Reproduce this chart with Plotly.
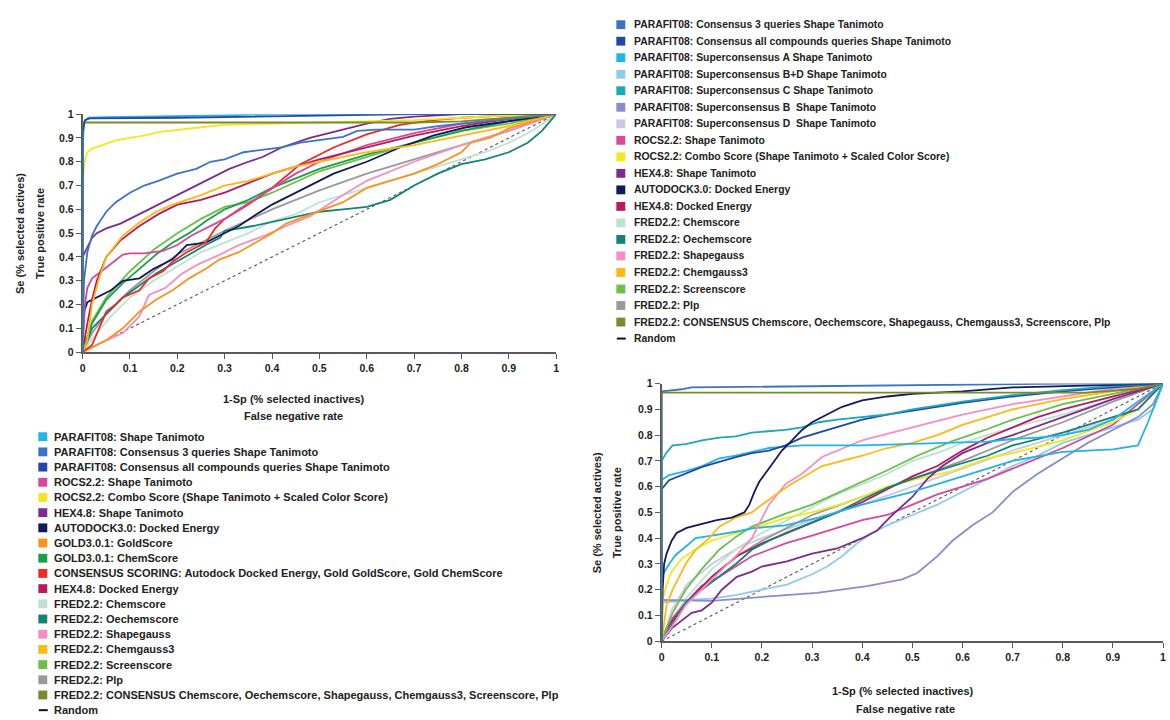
import plotly.graph_objects as go

W, H = 1170, 720
FONT = "Liberation Sans, Arial, sans-serif"

# ---------------- LEFT CHART DATA ----------------
L_PF_ST_X = [0, 0.001, 0.004, 0.012, 0.05, 0.15, 0.3, 0.42, 1]
L_PF_ST_Y = [0, 0.9, 0.97, 0.985, 0.988, 0.99, 0.995, 1, 1]

L_PF_C3_X = [0, 0.003, 0.01, 0.02, 0.03, 0.05, 0.07, 0.1, 0.13, 0.16, 0.2, 0.24, 0.27, 0.3, 0.34, 0.38, 0.42, 0.46, 0.5, 0.55, 0.58, 0.62, 0.7, 0.75, 0.8, 0.9, 1]
L_PF_C3_Y = [0, 0.3, 0.42, 0.49, 0.53, 0.59, 0.63, 0.67, 0.7, 0.72, 0.75, 0.77, 0.8, 0.81, 0.84, 0.85, 0.86, 0.88, 0.89, 0.905, 0.93, 0.935, 0.935, 0.95, 0.96, 0.98, 1]

L_PF_CA_X = [0, 0, 0.005, 0.015, 0.2, 0.35, 0.5, 0.7, 1]
L_PF_CA_Y = [0, 0.93, 0.975, 0.982, 0.985, 0.99, 0.995, 1, 1]

L_ROCS_ST_X = [0, 0.005, 0.01, 0.02, 0.04, 0.06, 0.085, 0.1, 0.13, 0.17, 0.2, 0.23, 0.26, 0.3, 0.33, 0.37, 0.4, 0.45, 0.5, 0.6, 0.7, 0.8, 0.9, 1]
L_ROCS_ST_Y = [0, 0.2, 0.27, 0.31, 0.34, 0.37, 0.41, 0.415, 0.415, 0.425, 0.45, 0.49, 0.52, 0.56, 0.6, 0.65, 0.69, 0.75, 0.8, 0.87, 0.92, 0.96, 0.98, 1]

L_ROCS_CB_X = [0, 0, 0.004, 0.01, 0.02, 0.04, 0.07, 0.1, 0.13, 0.16, 0.2, 0.25, 0.3, 0.4, 0.5, 0.6, 0.7, 0.8, 0.9, 1]
L_ROCS_CB_Y = [0, 0.7, 0.8, 0.84, 0.855, 0.87, 0.89, 0.9, 0.91, 0.925, 0.935, 0.945, 0.955, 0.96, 0.965, 0.97, 0.975, 0.985, 0.995, 1]

L_HEX_ST_X = [0, 0, 0.01, 0.02, 0.03, 0.05, 0.08, 0.1, 0.13, 0.17, 0.2, 0.24, 0.28, 0.31, 0.35, 0.38, 0.42, 0.45, 0.48, 0.52, 0.56, 0.6, 0.65, 0.7, 0.8, 1]
L_HEX_ST_Y = [0, 0.4, 0.44, 0.48, 0.5, 0.52, 0.54, 0.56, 0.59, 0.63, 0.66, 0.7, 0.74, 0.77, 0.8, 0.82, 0.86, 0.88, 0.9, 0.92, 0.94, 0.96, 0.98, 0.99, 1, 1]

L_AUTODOCK_X = [0, 0, 0.01, 0.03, 0.06, 0.085, 0.12, 0.15, 0.19, 0.22, 0.26, 0.29, 0.33, 0.36, 0.4, 0.44, 0.48, 0.53, 0.6, 0.67, 0.74, 0.81, 0.88, 0.95, 1]
L_AUTODOCK_Y = [0, 0.15, 0.21, 0.23, 0.26, 0.3, 0.31, 0.35, 0.39, 0.45, 0.46, 0.49, 0.53, 0.57, 0.62, 0.66, 0.7, 0.75, 0.8, 0.86, 0.91, 0.945, 0.965, 0.985, 1]

L_GOLDSCORE_X = [0, 0.02, 0.05, 0.085, 0.12, 0.155, 0.19, 0.225, 0.26, 0.29, 0.33, 0.365, 0.4, 0.43, 0.47, 0.5, 0.55, 0.6, 0.65, 0.7, 0.75, 0.8, 0.82, 0.86, 0.9, 0.95, 1]
L_GOLDSCORE_Y = [0, 0.02, 0.05, 0.1, 0.17, 0.22, 0.26, 0.31, 0.35, 0.39, 0.42, 0.46, 0.5, 0.54, 0.57, 0.59, 0.63, 0.69, 0.72, 0.75, 0.79, 0.84, 0.88, 0.9, 0.94, 0.97, 1]

L_GOLDCHEM_X = [0, 0.02, 0.05, 0.085, 0.12, 0.155, 0.19, 0.225, 0.26, 0.3, 0.35, 0.4, 0.45, 0.5, 0.6, 0.7, 0.8, 0.9, 1]
L_GOLDCHEM_Y = [0, 0.12, 0.22, 0.29, 0.35, 0.41, 0.46, 0.5, 0.55, 0.6, 0.64, 0.69, 0.73, 0.77, 0.83, 0.88, 0.93, 0.97, 1]

L_CONSSC_X = [0, 0.02, 0.035, 0.05, 0.07, 0.085, 0.12, 0.14, 0.17, 0.19, 0.22, 0.26, 0.28, 0.3, 0.35, 0.4, 0.46, 0.53, 0.6, 0.67, 0.74, 0.8, 0.9, 1]
L_CONSSC_Y = [0, 0.03, 0.1, 0.17, 0.2, 0.23, 0.26, 0.31, 0.34, 0.38, 0.42, 0.46, 0.52, 0.56, 0.62, 0.69, 0.79, 0.86, 0.915, 0.955, 0.975, 0.985, 0.995, 1]

L_HEX_DE_X = [0, 0.01, 0.02, 0.03, 0.05, 0.08, 0.12, 0.16, 0.2, 0.25, 0.3, 0.35, 0.4, 0.45, 0.5, 0.6, 0.7, 0.8, 0.9, 1]
L_HEX_DE_Y = [0, 0.12, 0.22, 0.3, 0.4, 0.47, 0.53, 0.58, 0.62, 0.64, 0.67, 0.71, 0.75, 0.78, 0.81, 0.86, 0.91, 0.95, 0.98, 1]

L_FCHEM_X = [0, 0.03, 0.06, 0.1, 0.15, 0.2, 0.25, 0.3, 0.35, 0.4, 0.45, 0.5, 0.55, 0.6, 0.65, 0.7, 0.75, 0.8, 0.85, 0.9, 0.95, 1]
L_FCHEM_Y = [0, 0.08, 0.15, 0.23, 0.3, 0.36, 0.42, 0.46, 0.5, 0.55, 0.58, 0.63, 0.66, 0.69, 0.72, 0.75, 0.78, 0.81, 0.84, 0.88, 0.93, 1]

L_FOECH_X = [0, 0.02, 0.05, 0.085, 0.12, 0.155, 0.19, 0.225, 0.26, 0.29, 0.3, 0.36, 0.43, 0.5, 0.55, 0.6, 0.65, 0.7, 0.75, 0.8, 0.85, 0.9, 0.94, 0.97, 1]
L_FOECH_Y = [0, 0.1, 0.16, 0.23, 0.28, 0.33, 0.37, 0.41, 0.45, 0.48, 0.51, 0.53, 0.56, 0.59, 0.6, 0.61, 0.64, 0.7, 0.75, 0.79, 0.81, 0.84, 0.88, 0.93, 1]

L_FSHAPE_X = [0, 0.04, 0.085, 0.12, 0.14, 0.175, 0.21, 0.245, 0.29, 0.33, 0.385, 0.43, 0.48, 0.55, 0.6, 0.7, 0.8, 0.9, 1]
L_FSHAPE_Y = [0, 0.04, 0.08, 0.15, 0.24, 0.27, 0.33, 0.37, 0.41, 0.45, 0.49, 0.53, 0.57, 0.66, 0.72, 0.8, 0.87, 0.93, 1]

L_FCG3_X = [0, 0.01, 0.02, 0.035, 0.05, 0.085, 0.12, 0.155, 0.19, 0.25, 0.3, 0.35, 0.4, 0.45, 0.5, 0.6, 0.7, 0.8, 0.9, 1]
L_FCG3_Y = [0, 0.05, 0.2, 0.31, 0.4, 0.49, 0.545, 0.59, 0.62, 0.66, 0.7, 0.72, 0.75, 0.78, 0.8, 0.84, 0.87, 0.91, 0.95, 1]

L_FSCREEN_X = [0, 0.02, 0.05, 0.1, 0.15, 0.2, 0.25, 0.3, 0.35, 0.4, 0.5, 0.6, 0.7, 0.8, 0.9, 1]
L_FSCREEN_Y = [0, 0.13, 0.23, 0.34, 0.43, 0.5, 0.56, 0.61, 0.63, 0.67, 0.76, 0.82, 0.88, 0.93, 0.96, 1]

L_FPLP_X = [0, 0.02, 0.05, 0.1, 0.15, 0.2, 0.3, 0.4, 0.5, 0.6, 0.7, 0.8, 0.9, 1]
L_FPLP_Y = [0, 0.08, 0.16, 0.26, 0.34, 0.41, 0.51, 0.6, 0.68, 0.75, 0.81, 0.87, 0.93, 1]

L_FCONS_X = [0, 0, 0.7, 0.8, 0.9, 1]
L_FCONS_Y = [0, 0.965, 0.965, 0.97, 0.985, 1]

RANDOM_X = [0, 1]
RANDOM_Y = [0, 1]

# ---------------- RIGHT CHART DATA ----------------
R_PF_C3_X = [0, 0, 0.01, 0.04, 0.06, 0.3, 0.5, 0.8, 1]
R_PF_C3_Y = [0, 0.97, 0.972, 0.978, 0.985, 0.99, 0.995, 1, 1]

R_PF_CA_X = [0, 0, 0.015, 0.048, 0.081, 0.115, 0.148, 0.18, 0.214, 0.247, 0.28, 0.313, 0.35, 0.4, 0.45, 0.5, 0.55, 0.6, 0.7, 0.8, 0.9, 1]
R_PF_CA_Y = [0, 0.59, 0.625, 0.65, 0.677, 0.696, 0.715, 0.73, 0.74, 0.76, 0.79, 0.81, 0.83, 0.86, 0.88, 0.895, 0.91, 0.925, 0.95, 0.97, 0.985, 1]

R_PF_SA_X = [0, 0, 0.015, 0.048, 0.081, 0.115, 0.148, 0.18, 0.214, 0.247, 0.28, 0.4, 0.5, 0.6, 0.65, 0.7, 0.75, 0.8, 0.85, 0.9, 0.95, 1]
R_PF_SA_Y = [0, 0.626, 0.645, 0.66, 0.68, 0.71, 0.72, 0.735, 0.75, 0.755, 0.76, 0.76, 0.765, 0.77, 0.775, 0.785, 0.79, 0.8, 0.82, 0.86, 0.93, 1]

R_PF_SBD_X = [0, 0, 0.05, 0.1, 0.15, 0.2, 0.25, 0.3, 0.33, 0.36, 0.39, 0.42, 0.45, 0.5, 0.55, 0.6, 0.65, 0.7, 0.75, 0.8, 0.85, 0.9, 0.95, 0.98, 1]
R_PF_SBD_Y = [0, 0.15, 0.16, 0.165, 0.18, 0.2, 0.22, 0.26, 0.29, 0.33, 0.38, 0.42, 0.45, 0.49, 0.53, 0.58, 0.63, 0.68, 0.72, 0.77, 0.8, 0.83, 0.86, 0.9, 1]

R_PF_SC_X = [0, 0, 0.009, 0.022, 0.048, 0.081, 0.115, 0.148, 0.18, 0.214, 0.247, 0.28, 0.313, 0.35, 0.4, 0.45, 0.5, 0.6, 0.7, 0.8, 0.9, 1]
R_PF_SC_Y = [0, 0.7, 0.73, 0.76, 0.765, 0.78, 0.79, 0.795, 0.81, 0.815, 0.82, 0.83, 0.85, 0.86, 0.87, 0.88, 0.9, 0.93, 0.955, 0.975, 0.99, 1]

R_PF_SB_X = [0, 0, 0.1, 0.22, 0.31, 0.41, 0.48, 0.51, 0.55, 0.58, 0.62, 0.66, 0.7, 0.75, 0.8, 0.85, 0.9, 0.95, 0.98, 1]
R_PF_SB_Y = [0, 0.16, 0.157, 0.175, 0.188, 0.214, 0.24, 0.265, 0.33, 0.39, 0.45, 0.5, 0.58, 0.65, 0.71, 0.77, 0.82, 0.87, 0.92, 1]

R_PF_SD_X = [0, 0.02, 0.05, 0.1, 0.15, 0.2, 0.3, 0.4, 0.5, 0.6, 0.7, 0.8, 0.9, 0.95, 1]
R_PF_SD_Y = [0, 0.12, 0.22, 0.3, 0.36, 0.4, 0.47, 0.53, 0.6, 0.67, 0.74, 0.8, 0.86, 0.9, 1]

R_PF_ST_X = [0, 0, 0.015, 0.028, 0.048, 0.068, 0.1, 0.148, 0.18, 0.214, 0.247, 0.28, 0.313, 0.4, 0.5, 0.6, 0.7, 0.8, 0.85, 0.9, 0.95, 0.97, 1]
R_PF_ST_Y = [0, 0.25, 0.3, 0.335, 0.367, 0.4, 0.41, 0.425, 0.438, 0.445, 0.45, 0.465, 0.48, 0.53, 0.58, 0.64, 0.7, 0.735, 0.74, 0.745, 0.76, 0.85, 1]

R_ROCS_ST_X = [0, 0.022, 0.048, 0.08, 0.115, 0.148, 0.18, 0.214, 0.247, 0.3, 0.35, 0.4, 0.45, 0.5, 0.55, 0.6, 0.65, 0.7, 0.8, 0.9, 1]
R_ROCS_ST_Y = [0, 0.09, 0.15, 0.215, 0.25, 0.29, 0.33, 0.355, 0.38, 0.41, 0.44, 0.47, 0.49, 0.53, 0.57, 0.6, 0.63, 0.67, 0.75, 0.84, 1]

R_ROCS_CB_X = [0, 0.003, 0.01, 0.02, 0.04, 0.07, 0.1, 0.15, 0.2, 0.25, 0.3, 0.38, 0.45, 0.51, 0.58, 0.65, 0.7, 0.8, 0.9, 0.95, 1]
R_ROCS_CB_Y = [0, 0.17, 0.22, 0.27, 0.32, 0.36, 0.39, 0.42, 0.45, 0.48, 0.5, 0.545, 0.6, 0.63, 0.66, 0.71, 0.73, 0.78, 0.85, 0.9, 1]

R_HEX_ST_X = [0, 0.02, 0.04, 0.06, 0.08, 0.1, 0.12, 0.15, 0.18, 0.2, 0.25, 0.3, 0.35, 0.4, 0.43, 0.46, 0.5, 0.53, 0.56, 0.6, 0.65, 0.7, 0.8, 0.9, 1]
R_HEX_ST_Y = [0, 0.05, 0.08, 0.11, 0.12, 0.15, 0.2, 0.25, 0.27, 0.29, 0.31, 0.34, 0.36, 0.4, 0.43, 0.49, 0.56, 0.63, 0.68, 0.73, 0.77, 0.8, 0.87, 0.94, 1]

R_AUTODOCK_X = [0, 0.002, 0.005, 0.01, 0.02, 0.03, 0.05, 0.08, 0.11, 0.14, 0.165, 0.175, 0.185, 0.195, 0.21, 0.225, 0.24, 0.26, 0.28, 0.3, 0.33, 0.36, 0.4, 0.45, 0.5, 0.6, 0.7, 0.8, 1]
R_AUTODOCK_Y = [0, 0.2, 0.3, 0.34, 0.39, 0.42, 0.44, 0.455, 0.47, 0.48, 0.5, 0.53, 0.58, 0.62, 0.66, 0.7, 0.74, 0.78, 0.82, 0.85, 0.88, 0.91, 0.935, 0.95, 0.96, 0.97, 0.985, 0.99, 1]

R_HEX_DE_X = [0, 0.01, 0.03, 0.06, 0.1, 0.15, 0.2, 0.25, 0.3, 0.35, 0.4, 0.45, 0.5, 0.55, 0.6, 0.65, 0.7, 0.75, 0.8, 0.9, 1]
R_HEX_DE_Y = [0, 0.05, 0.1, 0.17, 0.25, 0.33, 0.38, 0.42, 0.46, 0.5, 0.54, 0.59, 0.64, 0.68, 0.74, 0.79, 0.83, 0.87, 0.9, 0.95, 1]

R_FCHEM_X = [0, 0.02, 0.05, 0.1, 0.15, 0.2, 0.25, 0.3, 0.35, 0.4, 0.45, 0.5, 0.55, 0.6, 0.7, 0.8, 0.9, 1]
R_FCHEM_Y = [0, 0.08, 0.17, 0.28, 0.36, 0.42, 0.47, 0.52, 0.57, 0.61, 0.65, 0.7, 0.73, 0.77, 0.83, 0.88, 0.94, 1]

R_FOECH_X = [0, 0.022, 0.048, 0.08, 0.115, 0.148, 0.18, 0.214, 0.247, 0.3, 0.35, 0.4, 0.45, 0.5, 0.58, 0.65, 0.7, 0.8, 0.9, 0.95, 1]
R_FOECH_Y = [0, 0.07, 0.15, 0.2, 0.25, 0.3, 0.355, 0.39, 0.42, 0.46, 0.5, 0.55, 0.595, 0.63, 0.68, 0.72, 0.76, 0.81, 0.87, 0.9, 1]

R_FSHAPE_X = [0, 0.022, 0.048, 0.08, 0.115, 0.148, 0.18, 0.2, 0.214, 0.247, 0.28, 0.32, 0.35, 0.4, 0.5, 0.6, 0.7, 0.8, 0.9, 1]
R_FSHAPE_Y = [0, 0.06, 0.14, 0.2, 0.265, 0.33, 0.4, 0.48, 0.53, 0.61, 0.65, 0.715, 0.74, 0.78, 0.83, 0.88, 0.92, 0.95, 0.98, 1]

R_FCG3_X = [0, 0.01, 0.022, 0.048, 0.068, 0.095, 0.115, 0.148, 0.18, 0.2, 0.25, 0.32, 0.4, 0.45, 0.5, 0.55, 0.6, 0.7, 0.8, 0.9, 1]
R_FCG3_Y = [0, 0.14, 0.2, 0.3, 0.355, 0.4, 0.445, 0.48, 0.5, 0.53, 0.6, 0.68, 0.72, 0.75, 0.77, 0.8, 0.84, 0.9, 0.94, 0.97, 1]

R_FSCREEN_X = [0, 0.022, 0.048, 0.08, 0.115, 0.148, 0.18, 0.214, 0.247, 0.3, 0.38, 0.446, 0.51, 0.577, 0.645, 0.7, 0.8, 0.9, 1]
R_FSCREEN_Y = [0, 0.11, 0.2, 0.28, 0.355, 0.405, 0.445, 0.47, 0.495, 0.53, 0.6, 0.66, 0.72, 0.775, 0.82, 0.86, 0.92, 0.96, 1]

R_FPLP_X = [0, 0.02, 0.05, 0.1, 0.15, 0.2, 0.25, 0.3, 0.4, 0.5, 0.6, 0.7, 0.8, 0.9, 1]
R_FPLP_Y = [0, 0.08, 0.15, 0.25, 0.33, 0.39, 0.44, 0.49, 0.56, 0.63, 0.7, 0.78, 0.85, 0.93, 1]

R_FCONS_X = [0, 0, 0.85, 0.95, 1]
R_FCONS_Y = [0, 0.965, 0.965, 0.98, 1]

# ---------------- NAMES / COLOURS ----------------
N_PF_ST = "PARAFIT08: Shape Tanimoto"
N_PF_C3 = "PARAFIT08: Consensus 3 queries Shape Tanimoto"
N_PF_CA = "PARAFIT08: Consensus all compounds queries Shape Tanimoto"
N_PF_SA = "PARAFIT08: Superconsensus A Shape Tanimoto"
N_PF_SBD = "PARAFIT08: Superconsensus B+D Shape Tanimoto"
N_PF_SC = "PARAFIT08: Superconsensus C Shape Tanimoto"
N_PF_SB = "PARAFIT08: Superconsensus B  Shape Tanimoto"
N_PF_SD = "PARAFIT08: Superconsensus D  Shape Tanimoto"
N_ROCS_ST = "ROCS2.2: Shape Tanimoto"
N_ROCS_CB = "ROCS2.2: Combo Score (Shape Tanimoto + Scaled Color Score)"
N_HEX_ST = "HEX4.8: Shape Tanimoto"
N_AUTODOCK = "AUTODOCK3.0: Docked Energy"
N_GOLDSCORE = "GOLD3.0.1: GoldScore"
N_GOLDCHEM = "GOLD3.0.1: ChemScore"
N_CONSSC = "CONSENSUS SCORING: Autodock Docked Energy, Gold GoldScore, Gold ChemScore"
N_HEX_DE = "HEX4.8: Docked Energy"
N_FCHEM = "FRED2.2: Chemscore"
N_FOECH = "FRED2.2: Oechemscore"
N_FSHAPE = "FRED2.2: Shapegauss"
N_FCG3 = "FRED2.2: Chemgauss3"
N_FSCREEN = "FRED2.2: Screenscore"
N_FPLP = "FRED2.2: Plp"
N_FCONS = "FRED2.2: CONSENSUS Chemscore, Oechemscore, Shapegauss, Chemgauss3, Screenscore, Plp"
N_RANDOM = "Random"

C = {
    N_PF_ST: "#27b3e0", N_PF_C3: "#3c74c4", N_PF_CA: "#2447a6",
    N_PF_SA: "#1eb6ea", N_PF_SBD: "#8fcbef", N_PF_SC: "#19a9b8",
    N_PF_SB: "#8d8bcb", N_PF_SD: "#c9c8e6",
    N_ROCS_ST: "#d6489c", N_ROCS_CB: "#f3e81e", N_HEX_ST: "#7e2b90",
    N_AUTODOCK: "#111a5c", N_GOLDSCORE: "#f7941e", N_GOLDCHEM: "#19a04b",
    N_CONSSC: "#ee2b25", N_HEX_DE: "#b81b5c", N_FCHEM: "#bde2d4",
    N_FOECH: "#148276", N_FSHAPE: "#f390c3", N_FCG3: "#fdb913",
    N_FSCREEN: "#6cbf4b", N_FPLP: "#9a9a9a", N_FCONS: "#7b8a2e",
}

LEFT_LEGEND = [N_PF_ST, N_PF_C3, N_PF_CA, N_ROCS_ST, N_ROCS_CB, N_HEX_ST, N_AUTODOCK,
               N_GOLDSCORE, N_GOLDCHEM, N_CONSSC, N_HEX_DE, N_FCHEM, N_FOECH, N_FSHAPE,
               N_FCG3, N_FSCREEN, N_FPLP, N_FCONS, N_RANDOM]
RIGHT_LEGEND = [N_PF_C3, N_PF_CA, N_PF_SA, N_PF_SBD, N_PF_SC, N_PF_SB, N_PF_SD, N_ROCS_ST,
                N_ROCS_CB, N_HEX_ST, N_AUTODOCK, N_HEX_DE, N_FCHEM, N_FOECH, N_FSHAPE,
                N_FCG3, N_FSCREEN, N_FPLP, N_FCONS, N_RANDOM]

# draw order (first = bottom)
LEFT_SERIES = [
    (N_FPLP, L_FPLP_X, L_FPLP_Y), (N_FCHEM, L_FCHEM_X, L_FCHEM_Y),
    (N_FSHAPE, L_FSHAPE_X, L_FSHAPE_Y), (N_FOECH, L_FOECH_X, L_FOECH_Y),
    (N_GOLDSCORE, L_GOLDSCORE_X, L_GOLDSCORE_Y), (N_FSCREEN, L_FSCREEN_X, L_FSCREEN_Y),
    (N_GOLDCHEM, L_GOLDCHEM_X, L_GOLDCHEM_Y), (N_AUTODOCK, L_AUTODOCK_X, L_AUTODOCK_Y),
    (N_CONSSC, L_CONSSC_X, L_CONSSC_Y), (N_ROCS_ST, L_ROCS_ST_X, L_ROCS_ST_Y),
    (N_HEX_DE, L_HEX_DE_X, L_HEX_DE_Y), (N_FCG3, L_FCG3_X, L_FCG3_Y),
    (N_HEX_ST, L_HEX_ST_X, L_HEX_ST_Y), (N_PF_C3, L_PF_C3_X, L_PF_C3_Y),
    (N_ROCS_CB, L_ROCS_CB_X, L_ROCS_CB_Y), (N_FCONS, L_FCONS_X, L_FCONS_Y),
    (N_PF_ST, L_PF_ST_X, L_PF_ST_Y), (N_PF_CA, L_PF_CA_X, L_PF_CA_Y),
]
RIGHT_SERIES = [
    (N_PF_SD, R_PF_SD_X, R_PF_SD_Y), (N_FPLP, R_FPLP_X, R_FPLP_Y),
    (N_FCHEM, R_FCHEM_X, R_FCHEM_Y), (N_PF_SBD, R_PF_SBD_X, R_PF_SBD_Y),
    (N_PF_SB, R_PF_SB_X, R_PF_SB_Y), (N_ROCS_ST, R_ROCS_ST_X, R_ROCS_ST_Y),
    (N_ROCS_CB, R_ROCS_CB_X, R_ROCS_CB_Y), (N_HEX_DE, R_HEX_DE_X, R_HEX_DE_Y),
    (N_FOECH, R_FOECH_X, R_FOECH_Y), (N_FSCREEN, R_FSCREEN_X, R_FSCREEN_Y),
    (N_HEX_ST, R_HEX_ST_X, R_HEX_ST_Y), (N_PF_ST, R_PF_ST_X, R_PF_ST_Y),
    (N_FSHAPE, R_FSHAPE_X, R_FSHAPE_Y), (N_FCG3, R_FCG3_X, R_FCG3_Y),
    (N_PF_SA, R_PF_SA_X, R_PF_SA_Y), (N_PF_CA, R_PF_CA_X, R_PF_CA_Y),
    (N_PF_SC, R_PF_SC_X, R_PF_SC_Y), (N_AUTODOCK, R_AUTODOCK_X, R_AUTODOCK_Y),
    (N_FCONS, R_FCONS_X, R_FCONS_Y), (N_PF_C3, R_PF_C3_X, R_PF_C3_Y),
]

TICKS = [0, 0.1, 0.2, 0.3, 0.4, 0.5, 0.6, 0.7, 0.8, 0.9, 1]
TICK_TEXT = ["0", "0.1", "0.2", "0.3", "0.4", "0.5", "0.6", "0.7", "0.8", "0.9", "1"]

fig = go.Figure()


def add_chart(series, xa, ya):
    fig.add_trace(go.Scatter(x=RANDOM_X, y=RANDOM_Y, mode="lines", name=N_RANDOM,
                             line=dict(color="#555555", width=1.1, dash="dot"),
                             xaxis=xa, yaxis=ya, showlegend=False, cliponaxis=False))
    for name, xs, ys in series:
        fig.add_trace(go.Scatter(x=xs, y=ys, mode="lines", name=name,
                                 line=dict(color=C[name], width=1.8, shape="linear"),
                                 xaxis=xa, yaxis=ya, showlegend=False, cliponaxis=False))


add_chart(LEFT_SERIES, "x", "y")
add_chart(RIGHT_SERIES, "x2", "y2")

axis_common = dict(range=[0, 1], tickvals=TICKS, ticktext=TICK_TEXT, showgrid=False,
                   zeroline=False, showline=True, linecolor="#5a5a5a", linewidth=1.6,
                   ticks="outside", ticklen=5, tickwidth=1.3, tickcolor="#5a5a5a",
                   tickfont=dict(family=FONT, size=10.5, color="#222222", weight="bold"),
                   layer="below traces", fixedrange=True)


def px_x(p):
    return p / W


def px_y(p):
    return 1 - p / H


fig.update_layout(
    width=W, height=H, margin=dict(l=0, r=0, t=0, b=0),
    paper_bgcolor="white", plot_bgcolor="white", showlegend=False,
    xaxis=dict(domain=[px_x(80), px_x(556)], anchor="y", **axis_common),
    yaxis=dict(domain=[px_y(352), px_y(110)], anchor="x", **axis_common),
    xaxis2=dict(domain=[px_x(662), px_x(1166)], anchor="y2", **axis_common),
    yaxis2=dict(domain=[px_y(646), px_y(384)], anchor="x2", **axis_common),
)

annotations = []
shapes = []


def title(text, x, y, size=11, angle=0):
    annotations.append(dict(text="<b>" + text + "</b>", x=px_x(x), y=px_y(y), xref="paper",
                            yref="paper", showarrow=False, xanchor="center", yanchor="middle",
                            textangle=angle, font=dict(family=FONT, size=size, color="#222222")))


title("1-Sp (% selected inactives)", 293, 400)
title("False negative rate", 292, 417)
title("Se (% selected actives)", 17, 231, angle=-90)
title("True positive rate", 37, 231, angle=-90)
title("1-Sp (% selected inactives)", 905, 697)
title("False negative rate", 907, 715)
title("Se (% selected actives)", 597, 515, angle=-90)
title("True positive rate", 618, 515, angle=-90)


def legend(names, sq_x, txt_x, y0, dy, size):
    for i, name in enumerate(names):
        y = y0 + i * dy
        if name == N_RANDOM:
            shapes.append(dict(type="line", xref="paper", yref="paper",
                               x0=px_x(sq_x - 4), x1=px_x(sq_x + 5), y0=px_y(y), y1=px_y(y),
                               line=dict(color="#111111", width=2)))
        else:
            shapes.append(dict(type="rect", xref="paper", yref="paper",
                               x0=px_x(sq_x - 4.5), x1=px_x(sq_x + 4.5),
                               y0=px_y(y + 4.5), y1=px_y(y - 4.5),
                               fillcolor=C[name], line=dict(width=0)))
        annotations.append(dict(text="<b>" + name.replace("  ", "&nbsp; ") + "</b>",
                                x=px_x(txt_x), y=px_y(y), xref="paper", yref="paper",
                                showarrow=False, xanchor="left", yanchor="middle",
                                font=dict(family=FONT, size=size, color="#222222")))


legend(LEFT_LEGEND, 40, 49, 438, 15.45, 11)
legend(RIGHT_LEGEND, 621, 632, 19, 16.8, 10.4)

fig.update_layout(annotations=annotations, shapes=shapes)
fig.write_html("out.html")
